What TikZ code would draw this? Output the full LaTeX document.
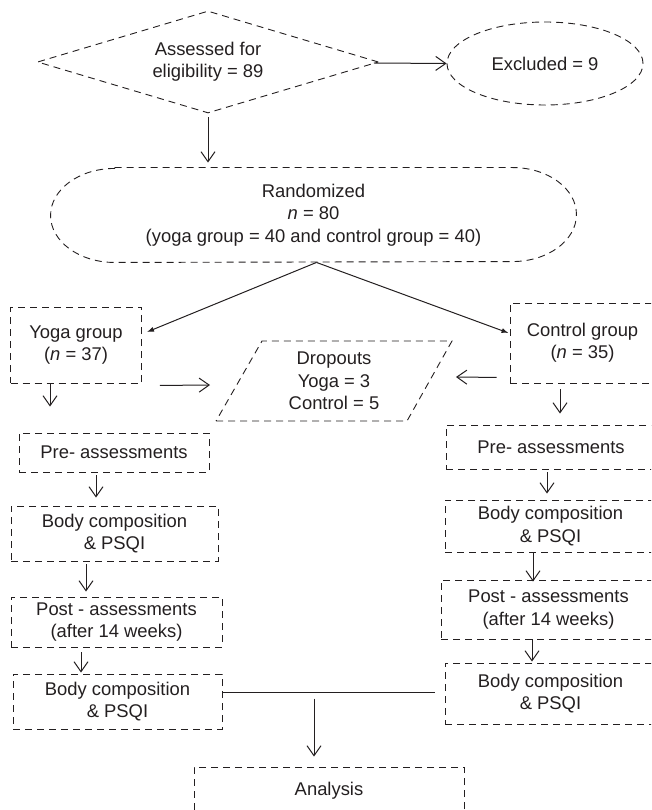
\documentclass[tikz,border=0pt]{standalone}
\usepackage{fontspec}
\setmainfont{Liberation Sans}
\usetikzlibrary{shapes.geometric, arrows.meta, calc}
\definecolor{ink}{RGB}{35,31,32}
\tikzset{%
dbox/.style={draw=ink, line width=0.9pt, dash pattern=on 7pt off 5pt, inner sep=0pt,
  align=center, text=ink, font=\fontsize{18.4}{22.3}\selectfont},
arra/.style={draw=ink, line width=1pt, -{Straight Barb[length=10pt,width=14pt]}},
arrb/.style={draw=ink, line width=1pt, -{Latex[length=7pt,width=5pt]}},
}

\begin{document}
\begin{tikzpicture}[x=1pt,y=-1pt]
 \useasboundingbox (0,0) rectangle (651,810);
 \clip (0,0) rectangle (651,810);
 \node[dbox, diamond, shape aspect=3.34, minimum width=341pt, minimum height=102pt] (A) at (208,62) {Assessed for\\eligibility = 89};
 \node[dbox, ellipse, minimum width=196pt, minimum height=83pt] (E) at (545,63.5) {Excluded = 9};
 \node[dbox, draw=none, minimum width=525pt, minimum height=94pt] (R) at (313.5,215) {Randomized\\\textit{n} = 80\\(yoga group = 40 and control group = 40)};
 \draw[dbox] ($(R.north west)+(64,0)$) -- ($(R.north east)+(-64,0)$)
   arc[start angle=90, end angle=-90, x radius=64pt, y radius=47pt]
   -- ($(R.south west)+(64,0)$)
   arc[start angle=270, end angle=90, x radius=64pt, y radius=47pt] -- cycle;
 \node[dbox, minimum width=131pt, minimum height=76pt] (Y) at (76,345) {Yoga group\\(\textit{n} = 37)};
 \node[dbox, minimum width=145pt, minimum height=80pt] (C) at (582.5,343) {Control group\\(\textit{n} = 35)};
 \node[dbox, draw=none] (D) at (334,381) {Dropouts\\Yoga = 3\\Control = 5};
 \draw[dbox] ($(D)+(-118,40)$) -- ++(191,0) -- ++(45,-80) -- ++(-190,0) -- cycle;
 \node[dbox, minimum width=190pt, minimum height=39pt] (Y1) at (114,452.5) {Pre- assessments};
 \node[dbox, minimum width=207pt, minimum height=55pt] (Y2) at (114.5,533.5) {Body composition\\\& PSQI};
 \node[dbox, minimum width=211pt, minimum height=50pt] (Y3) at (116.5,622) {Post - assessments\\(after 14 weeks)};
 \node[dbox, minimum width=209pt, minimum height=55pt] (Y4) at (117.5,701.5) {Body composition\\\& PSQI};
 \node[dbox, minimum width=210pt, minimum height=44pt] (C1) at (551,447) {Pre- assessments};
 \node[dbox, minimum width=211pt, minimum height=52pt] (C2) at (550.5,526) {Body composition\\\& PSQI};
 \node[dbox, minimum width=215pt, minimum height=59pt] (C3) at (548.5,609.5) {Post - assessments\\(after 14 weeks)};
 \node[dbox, minimum width=211pt, minimum height=61pt] (C4) at (550.5,693.5) {Body composition\\\& PSQI};
 \node[dbox, minimum width=270pt, minimum height=48pt] (N) at (329,791) {Analysis};

 \draw[arra] ($(A.east)+(-5,1)$) -- (E.west);
 \draw[arra] ($(A.south)+(0,4)$) -- ($(A.south |- R.north)+(0,-5)$);
 \draw[arrb] ($(R.south)+(3,0)$) -- ($(Y.east)+(5,-13)$);
 \draw[arrb] ($(R.south)+(3,0)$) -- ($(C.west)+(-1,-10)$);
 \draw[arra] ($(Y.south east)+(18,2)$) -- ($(D)+(-124,4)$);
 \draw[arra] ($(C.south west)+(-13,-6)$) -- ($(D)+(122,-4)$);
 \draw[arra] ($(Y.south)+(-26,1)$) -- ($(Y1.north)+(-64,-26)$);
 \draw[arra] ($(Y1.south)+(-18,3)$) -- ($(Y2.north)+(-18.5,-8)$);
 \draw[arra] ($(Y2.south)+(-28.5,3)$) -- ($(Y3.north)+(-30.5,-5)$);
 \draw[arra] ($(Y3.south)+(-35.5,5)$) -- ($(Y4.north)+(-36.5,-1)$);
 \draw[arra] ($(C.south)+(-22.5,6)$) -- ($(C1.north)+(9,-11)$);
 \draw[arra] ($(C1.south)+(-4,3)$) -- ($(C2.north)+(-3.5,-6)$);
 \draw[arra] ($(C2.south)+(-17.5,0)$) -- ($(C3.north)+(-15.5,2)$);
 \draw[arra] ($(C3.south)+(-16.5,0)$) -- ($(C4.north)+(-18.5,-1)$);
 \draw[draw=ink, line width=1pt] ($(Y4.east)+(0,-9.5)$) -- ($(C4.west)+(-10,-1.5)$);
 \draw[arra] ($(N.north)+(-15,-68)$) -- ($(N.north)+(-15,-10)$);
\end{tikzpicture}
\end{document}
